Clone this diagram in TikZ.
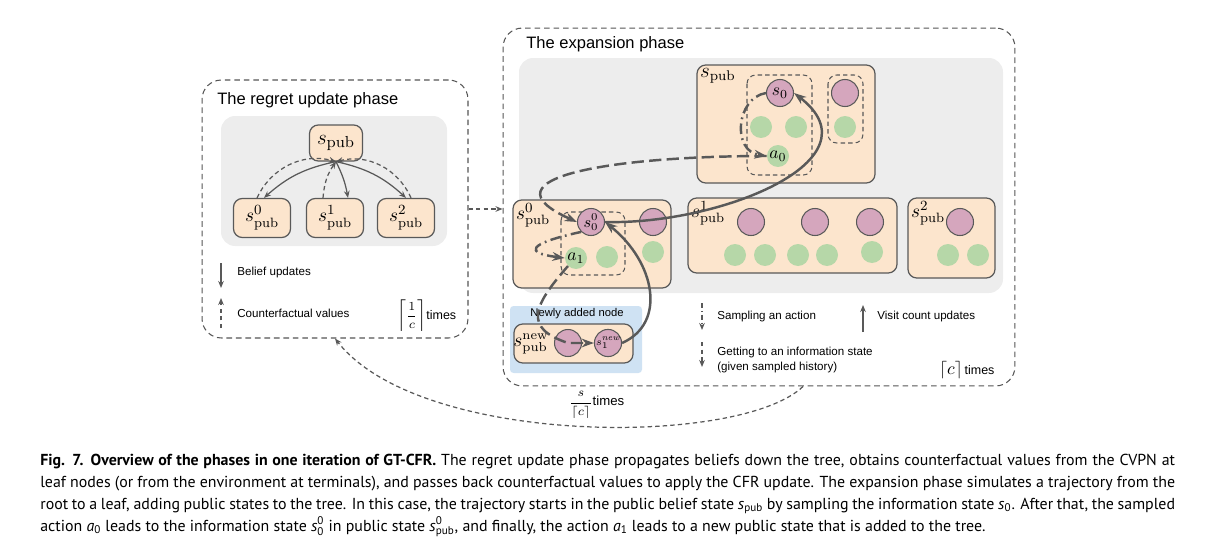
\documentclass[tikz,border=0pt]{standalone}
\usepackage{amsmath}
\usepackage{fontspec}
\newfontfamily\diagfont{Liberation Sans}
\newfontfamily\capfont{PT Sans}
\usetikzlibrary{arrows.meta,calc}
\definecolor{peach}{HTML}{FCE5CD}
\definecolor{pinkc}{HTML}{D5A6BD}
\definecolor{greenc}{HTML}{B6D7A8}
\definecolor{bluec}{HTML}{CFE2F3}
\definecolor{panelgray}{HTML}{EDEDED}
\definecolor{edgegray}{HTML}{595959}
\definecolor{dashgray}{HTML}{555555}

\begin{document}
\begin{tikzpicture}[x=0.02cm,y=-0.02cm,
    phase/.style={draw=dashgray,dash pattern=on 3.2pt off 2.2pt,line width=0.6pt,rounded corners=11pt,inner sep=0pt},
    pbs/.style={draw=edgegray,fill=peach,line width=0.7pt,rounded corners=5pt},
    info/.style={draw=edgegray,dash pattern=on 2.5pt off 1.8pt,line width=0.6pt,rounded corners=5pt},
    pk/.style={circle,draw=edgegray,fill=pinkc,line width=0.6pt,minimum size=0.54cm,inner sep=0pt},
    gr/.style={circle,fill=greenc,minimum size=0.44cm,inner sep=0pt},
    bel/.style={-{Stealth[length=4pt,width=3.2pt]},draw=edgegray,line width=0.7pt},
    cfv/.style={bel,dash pattern=on 2.5pt off 1.8pt},
    legsamp/.style={bel,dash pattern=on 3pt off 1.5pt on 0.6pt off 1.5pt},
    visit/.style={-{Stealth[length=7pt,width=5pt]},draw=edgegray,line width=1.4pt},
    samp/.style={visit,dash pattern=on 6pt off 2.5pt on 1pt off 2.5pt},
    reach/.style={visit,dash pattern=on 7pt off 3pt},
    lbl/.style={font=\diagfont\fontsize{6.6}{8.5}\selectfont,anchor=west,inner sep=0pt,align=left},
    ttl/.style={font=\diagfont\fontsize{9.4}{11}\selectfont,anchor=west,inner sep=0pt}]
\useasboundingbox (0,0) rectangle (1211,551);

\node[phase,minimum width=5.32cm,minimum height=5.16cm] (rp) at (335,209) {};
\node[phase,minimum width=10.24cm,minimum height=7.16cm] (ep) at (759,207) {};
\node[ttl] (rpt) at (217,100) {The regret update phase};
\node[ttl] (ept) at (526,44) {The expansion phase};
\fill[panelgray,rounded corners=8pt] (221,116) rectangle (447,246);
\fill[panelgray,rounded corners=8pt] (519,58) rectangle (1003,293);

\node[pbs,minimum width=1.06cm,minimum height=0.72cm,font=\fontsize{13}{15}\selectfont] (r) at (336,143) {$s_{\mathrm{pub}}$};
\foreach \k/\x in {0/262,1/335,2/406}
  \node[pbs,minimum width=1.14cm,minimum height=0.78cm,font=\fontsize{11}{13}\selectfont] (c\k) at (\x,218) {$s^{\k}_{\mathrm{pub}}$};
\draw[bel] (r.south) to[bend right=15] ([xshift=0.04cm]c0.north);
\draw[cfv] ([xshift=-0.1cm]c0.north) to[bend left=40] (r.south);
\draw[bel] (r.south) to[bend left=8] ([xshift=0.26cm]c1.north);
\draw[cfv] ([xshift=-0.24cm]c1.north) to[bend left=15] (r.south);
\draw[bel] (r.south) to[bend left=15] (c2.north);
\draw[cfv] ([xshift=0.1cm]c2.north) to[bend right=40] (r.south);

\coordinate (bu) at (221,263);
\coordinate (cf) at (221,328);
\draw[bel] (bu) -- ++(0,25);
\draw[cfv] (cf) -- ++(0,-30);
\node[lbl] (bul) at (237,273) {Belief updates};
\node[lbl] (cfl) at (237,313) {Counterfactual values};
\node[anchor=west,inner sep=0pt,font=\fontsize{7.5}{9}\selectfont] (rtimes) at (397,316) {$\left\lceil\dfrac{1}{c}\right\rceil${\diagfont\fontsize{7.1}{8}\selectfont times}};

\draw[cfv] (rp.east) -- (rp.east -| ep.west);

\draw[pbs] (697,65) rectangle (875,183);
\node[anchor=north west,inner sep=1pt,font=\fontsize{12}{14}\selectfont] (tl) at (698,66) {$s_{\mathrm{pub}}$};
\draw[info] (747,75) rectangle (812,175);
\draw[info] (828,75) rectangle (863,143);
\node[pk,font=\fontsize{10}{12}\selectfont] (s0) at (780,93) {$s_0$};
\node[pk] (p-1) at (845,93) {};
\foreach \x/\y [count=\n] in {761/127,796/127,845/127}
  \node[gr] (g-0-\n) at (\x,\y) {};
\node[gr,font=\fontsize{10}{12}\selectfont] (a0) at (778,156) {$a_0$};

\draw[pbs] (513,200) rectangle (671,288);
\node[anchor=north west,inner sep=1pt,font=\fontsize{11}{13}\selectfont] (l0) at (514,201) {$s^0_{\mathrm{pub}}$};
\draw[info] (561,212) rectangle (625,275);
\node[pk,font=\fontsize{9}{11}\selectfont] (s00) at (591,222) {$s^0_0$};
\node[pk] (q-0) at (653,222) {};
\node[gr,font=\fontsize{10}{12}\selectfont] (a1) at (576,258) {$a_1$};
\foreach \x/\y [count=\n] in {607/257,653/252}
  \node[gr] (g-1-\n) at (\x,\y) {};

\draw[pbs] (688,198) rectangle (897,273);
\node[anchor=north west,inner sep=1pt,font=\fontsize{11}{13}\selectfont] (l1) at (689,199) {$s^1_{\mathrm{pub}}$};
\foreach \x [count=\n] in {751,815,870}
  \node[pk] (q-1-\n) at (\x,222) {};
\foreach \x/\y [count=\n] in {735/255,765/255,798/255,827/255,872/252}
  \node[gr] (g-2-\n) at (\x,\y) {};

\draw[pbs] (908,198) rectangle (995,278);
\node[anchor=north west,inner sep=1pt,font=\fontsize{11}{13}\selectfont] (l2) at (909,199) {$s^2_{\mathrm{pub}}$};
\node[pk] (q-2) at (960,222) {};
\foreach \x [count=\n] in {948,978}
  \node[gr] (g-3-\n) at (\x,255) {};

\fill[bluec,rounded corners=2pt] (510,306) rectangle (642,373);
\node[font=\diagfont\fontsize{6.4}{8}\selectfont,inner sep=0pt] (newl) at (577,314) {Newly added node};
\draw[pbs] (514,324) rectangle (633,363);
\node[font=\fontsize{10.5}{12}\selectfont,inner sep=0pt] (ln) at (531,344) {$s^{\mathrm{new}}_{\mathrm{pub}}$};
\node[pk] (n1) at (568,343) {};
\node[pk,font=\fontsize{6}{7}\selectfont] (n2) at (608,343) {$s_1^{\mathit{new}}$};

\draw[samp] (s0.west) .. controls +(-30,5) and +(-35,-5) .. (a0.west);
\draw[reach] (a0.west) .. controls +(-150,0) and +(-100,-45) .. (s00.west);
\draw[samp] (s00.south west) .. controls +(-55,12) and +(-40,-5) .. (a1.west);
\draw[reach] (a1.south west) .. controls +(-35,40) and +(-45,-15) .. (n1.center) -- (n2.west);
\draw[visit] (n2.east) .. controls +(45,-20) and +(50,40) .. (s00.east);
\draw[visit] (s00.east) .. controls +(115,3) and +(87,67) .. (s0.east);

\coordinate (sa) at (702,303);
\coordinate (gt) at (702,342);
\coordinate (vc) at (863,332);
\draw[legsamp] (sa) -- ++(0,27);
\draw[cfv] (gt) -- ++(0,25);
\draw[bel] (vc) -- ++(0,-27);
\node[lbl] (sal) at (717,316) {Sampling an action};
\node[lbl] (vcl) at (877,316) {Visit count updates};
\node[lbl] (gtl) at (717,360) {Getting to an information state\\(given sampled history)};
\node[anchor=west,inner sep=0pt,font=\fontsize{10}{12}\selectfont] (etimes) at (939,370) {$\lceil c\rceil${\diagfont\fontsize{7.1}{8}\selectfont\,times}};

\draw[cfv] ([xshift=0.88cm]ep.south) .. controls (740,447) and (420,447) .. (rp.south);
\node[anchor=west,inner sep=0pt,font=\fontsize{7.5}{9}\selectfont] (atimes) at (569,405) {$\dfrac{s}{\lceil c\rceil}${\diagfont\fontsize{7.5}{9}\selectfont times}};

\node[anchor=north west,inner sep=0pt,text width=22.7cm,align=justify,font=\capfont\fontsize{9.05}{12.4}\selectfont] (cap) at (40,454) {\textbf{Fig. 7. Overview of the phases in one iteration of GT-CFR.} The regret update phase propagates beliefs down the tree, obtains counterfactual values from the CVPN at\linebreak leaf nodes (or from the environment at terminals), and passes back counterfactual values to apply the CFR update. The expansion phase simulates a trajectory from the\linebreak root to a leaf, adding public states to the tree. In this case, the trajectory starts in the public belief state {\itshape s}$_{\text{pub}}$ by sampling the information state {\itshape s}$_{\text{0}}$. After that, the sampled\linebreak action {\itshape a}$_{\text{0}}$ leads to the information state {\itshape s}$^{\text{0}}_{\text{0}}$ in public state {\itshape s}$^{\text{0}}_{\text{pub}}$, and finally, the action {\itshape a}$_{\text{1}}$ leads to a new public state that is added to the tree.};
\end{tikzpicture}
\end{document}
